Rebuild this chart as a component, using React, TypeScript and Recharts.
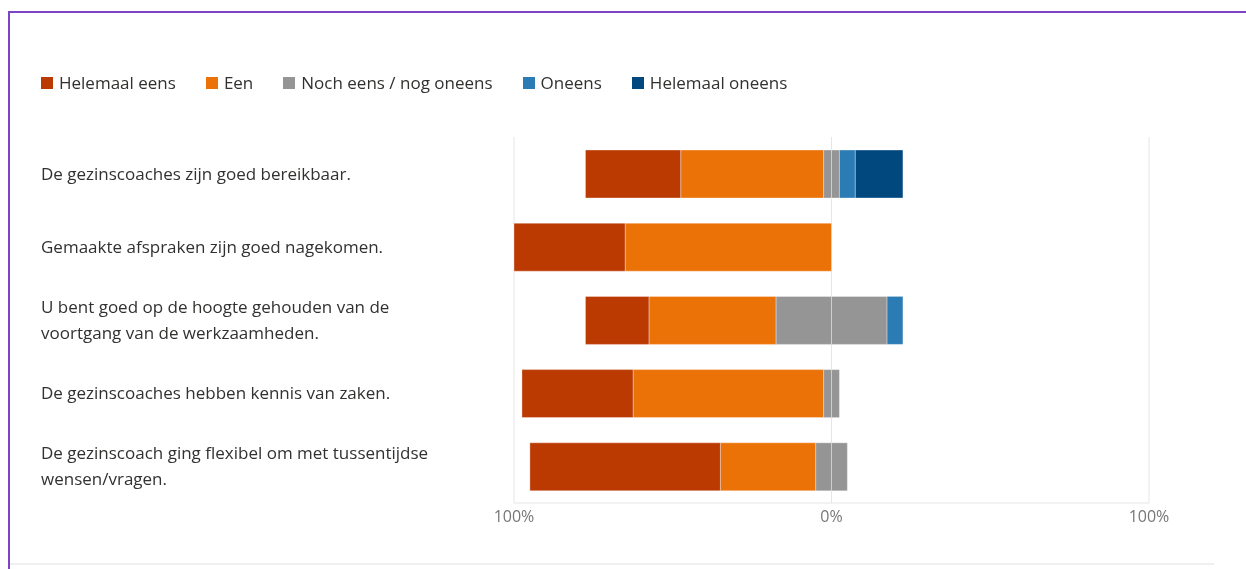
import { BarChart, Bar, XAxis, YAxis, CartesianGrid } from 'recharts';

const categories = [
  'De gezinscoaches zijn goed bereikbaar.',
  'Gemaakte afspraken zijn goed nagekomen.',
  'U bent goed op de hoogte gehouden van de voortgang van de werkzaamheden.',
  'De gezinscoaches hebben kennis van zaken.',
  'De gezinscoach ging flexibel om met tussentijdse wensen/vragen.',
];

// percentages per answer
const helemaalEens = [30, 35, 20, 35, 60];
const eens = [45, 65, 40, 60, 30];
const neutraal = [5, 0, 35, 5, 10];
const oneens = [5, 0, 5, 0, 0];
const helemaalOneens = [15, 0, 0, 0, 0];

const xTicks = [-100, 0, 100];

const legendItems = [
  { label: 'Helemaal eens', color: '#BA3A02' },
  { label: 'Een', color: '#EB7206' },
  { label: 'Noch eens / nog oneens', color: '#959595' },
  { label: 'Oneens', color: '#2B7BB4' },
  { label: 'Helemaal oneens', color: '#01487F' },
];

const FONT = '"Open Sans", "Noto Sans", sans-serif';
const LABEL_SIZE = 17;

// diverging: agree goes left (negative), neutral split over 0
const chartData = categories.map((name, i) => ({
  name,
  neutralNeg: -neutraal[i] / 2,
  een: -eens[i],
  helemaalEens: -helemaalEens[i],
  neutralPos: neutraal[i] / 2,
  oneens: oneens[i],
  helemaalOneens: helemaalOneens[i],
}));

let ctx: CanvasRenderingContext2D | null = null;
function wrap(str: string, maxWidth: number) {
  if (!ctx) ctx = document.createElement('canvas').getContext('2d');
  ctx!.font = `${LABEL_SIZE}px ${FONT}`;
  const lines: string[] = [];
  let cur = '';
  for (const w of str.split(' ')) {
    const test = cur ? cur + ' ' + w : w;
    if (cur && ctx!.measureText(test).width > maxWidth) {
      lines.push(cur);
      cur = w;
    } else cur = test;
  }
  if (cur) lines.push(cur);
  return lines;
}

function CategoryTick(props: any) {
  const { y, payload } = props;
  const lines = wrap(payload.value, 410);
  const lh = 26;
  const first = y - ((lines.length - 1) * lh) / 2 + 6;
  return (
    <text x={31} y={first} textAnchor="start" style={{ fontSize: LABEL_SIZE, fill: '#323130', fontFamily: FONT }}>
      {lines.map((l, i) => (
        <tspan key={i} x={31} dy={i === 0 ? 0 : lh}>
          {l}
        </tspan>
      ))}
    </text>
  );
}

const barStroke = { stroke: '#ffffff', strokeOpacity: 0.35, strokeWidth: 1 };

export default function App() {
  return (
    <div
      style={{
        position: 'fixed',
        left: 8,
        top: 11,
        width: 1238,
        height: 558,
        borderTop: '2px solid #7D44C3',
        borderLeft: '2px solid #7D44C3',
        fontFamily: FONT,
        overflow: 'hidden',
      }}
    >
      <div style={{ position: 'absolute', left: 31, top: 59, display: 'flex', alignItems: 'center', gap: 30 }}>
        {legendItems.map((item) => (
          <div key={item.label} style={{ display: 'flex', alignItems: 'center', gap: 6 }}>
            <div style={{ width: 12, height: 12, background: item.color }} />
            <span style={{ fontSize: 17, color: '#323130', lineHeight: '22px' }}>{item.label}</span>
          </div>
        ))}
      </div>

      <div style={{ position: 'absolute', left: 0, top: 0 }}>
        <BarChart
          width={1200}
          height={540}
          data={chartData}
          layout="vertical"
          stackOffset="sign"
          barSize={48}
          margin={{ top: 124, right: 61, bottom: 20, left: 0 }}
        >
          <CartesianGrid horizontal={false} stroke="#E6E6E6" />
          <XAxis
            type="number"
            domain={[-100, 100]}
            ticks={xTicks}
            tickFormatter={(v: number) => `${Math.abs(v)}%`}
            tick={{ fontSize: 16, fill: '#777777', fontFamily: FONT }}
            axisLine={{ stroke: '#E6E6E6' }}
            tickLine={false}
            height={30}
          />
          <YAxis
            type="category"
            dataKey="name"
            width={504}
            axisLine={false}
            tickLine={false}
            tick={<CategoryTick />}
          />
          <Bar dataKey="neutralNeg" stackId="a" fill="#959595" {...barStroke} isAnimationActive={false} />
          <Bar dataKey="een" stackId="a" fill="#EB7206" {...barStroke} isAnimationActive={false} />
          <Bar dataKey="helemaalEens" stackId="a" fill="#BA3A02" {...barStroke} isAnimationActive={false} />
          <Bar dataKey="neutralPos" stackId="a" fill="#959595" {...barStroke} isAnimationActive={false} />
          <Bar dataKey="oneens" stackId="a" fill="#2B7BB4" {...barStroke} isAnimationActive={false} />
          <Bar dataKey="helemaalOneens" stackId="a" fill="#01487F" {...barStroke} isAnimationActive={false} />
        </BarChart>
      </div>

      <div style={{ position: 'absolute', left: 0, top: 550, width: 1204, height: 2, background: '#EFEFEF' }} />
    </div>
  );
}
